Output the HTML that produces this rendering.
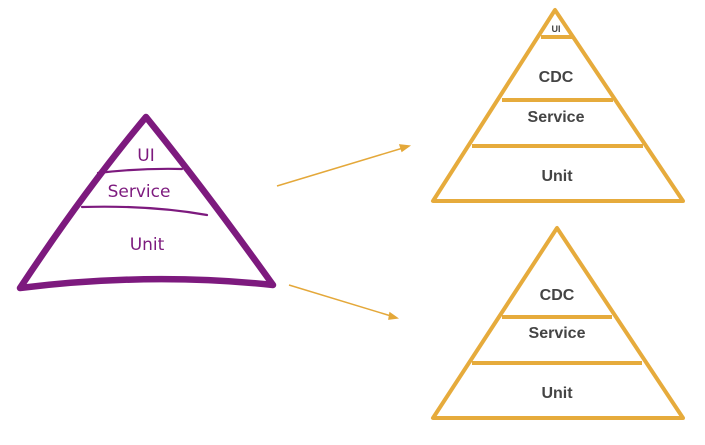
<!DOCTYPE html>
<html><head><style>body{margin:0;background:#fff}svg{display:block}</style></head><body>
<svg width="705" height="445" viewBox="0 0 705 445" xmlns="http://www.w3.org/2000/svg">
<g fill="none" stroke="#7d1a7e" stroke-linecap="round" stroke-linejoin="round">
<path d="M146 117 Q85 190 20 288 Q150 272 273 285 Q205 190 146 117 Z" stroke-width="6.5"/>
<path d="M98 173 Q140 168 182 169" stroke-width="2.2"/>
<path d="M82 207 Q150 205 207 215" stroke-width="2.2"/>
</g>
<g font-family="'Comic Sans MS','DejaVu Sans',sans-serif" fill="#7d1a7e" font-size="17" text-anchor="middle">
<text x="146" y="161">UI</text>
<text x="139" y="197">Service</text>
<text x="147" y="250">Unit</text>
</g>
<g stroke="#e4a83a" stroke-width="1.5" fill="#e4a83a">
<line x1="277" y1="186" x2="403" y2="148"/><polygon points="409,146 400,145 402,151"/>
<line x1="289" y1="285" x2="391" y2="316"/><polygon points="397,318 390,313 389,319"/>
</g>
<g fill="none" stroke="#e6ab3c" stroke-width="4" stroke-linejoin="round">
<path d="M555 10 L433 201 L683 201 Z"/>
<line x1="541" y1="37" x2="573" y2="37"/>
<line x1="502" y1="100" x2="613" y2="100"/>
<line x1="472" y1="146" x2="643" y2="146"/>
<path d="M557 228 L433 418 L683 418 Z"/>
<line x1="502" y1="317" x2="612" y2="317"/>
<line x1="472" y1="363" x2="642" y2="363"/>
</g>
<g font-family="'Liberation Sans',sans-serif" font-weight="bold" fill="#444" text-anchor="middle">
<text x="556" y="32" font-size="9">UI</text>
<text x="556" y="82" font-size="16">CDC</text>
<text x="556" y="122" font-size="16">Service</text>
<text x="557" y="181" font-size="16">Unit</text>
<text x="557" y="300" font-size="16">CDC</text>
<text x="557" y="338" font-size="16">Service</text>
<text x="557" y="398" font-size="16">Unit</text>
</g>
</svg>
</body></html>
